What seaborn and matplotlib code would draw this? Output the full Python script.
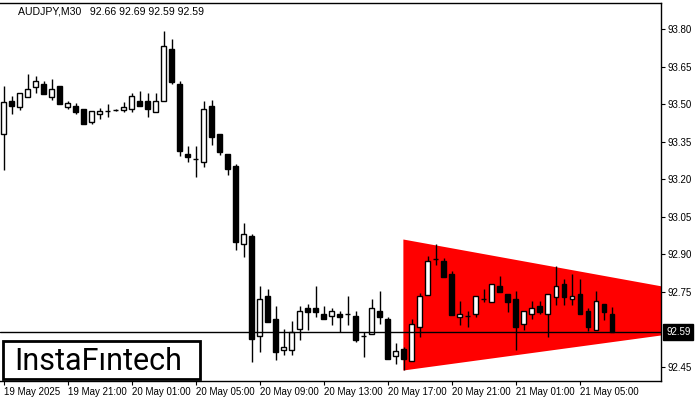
import numpy as np
import pandas as pd
import matplotlib
matplotlib.use("Agg")
import matplotlib.pyplot as plt
import matplotlib.transforms as mtransforms
from matplotlib.patches import Rectangle
import seaborn as sns

# header / chart info
header_text = "AUDJPY,M30   92.66 92.69 92.59 92.59"
logo_text = "InstaFıntech"
last_price = 92.59

# OHLC of the M30 candles, oldest first
opens = [93.381, 93.514, 93.490, 93.530, 93.570, 93.581, 93.530, 93.573, 93.490, 93.493,
         93.480, 93.430, 93.460, 93.474, 93.477, 93.477, 93.480, 93.514, 93.513, 93.470,
         93.512, 93.720, 93.580, 93.300, 93.281, 93.270, 93.493, 93.381, 93.300, 93.253,
         92.940, 92.973, 92.573, 92.733, 92.640, 92.517, 92.517, 92.600, 92.683, 92.683,
         92.661, 92.653, 92.661, 92.661, 92.653, 92.573, 92.580, 92.673, 92.640, 92.493,
         92.520, 92.473, 92.610, 92.737, 92.880, 92.873, 92.821, 92.650, 92.653, 92.660,
         92.720, 92.710, 92.773, 92.741, 92.720, 92.620, 92.660, 92.693, 92.660, 92.730,
         92.781, 92.720, 92.741, 92.673, 92.597, 92.701, 92.660]
highs = [93.573, 93.533, 93.544, 93.621, 93.613, 93.593, 93.601, 93.573, 93.513, 93.504,
         93.480, 93.473, 93.484, 93.501, 93.481, 93.510, 93.546, 93.553, 93.544, 93.544,
         93.793, 93.761, 93.593, 93.333, 93.333, 93.513, 93.517, 93.381, 93.300, 93.261,
         93.024, 92.980, 92.773, 92.760, 92.693, 92.600, 92.633, 92.693, 92.701, 92.773,
         92.693, 92.683, 92.673, 92.733, 92.673, 92.590, 92.720, 92.753, 92.650, 92.543,
         92.530, 92.640, 92.744, 92.893, 92.941, 92.884, 92.833, 92.713, 92.673, 92.733,
         92.760, 92.780, 92.813, 92.741, 92.753, 92.673, 92.713, 92.713, 92.740, 92.853,
         92.800, 92.821, 92.800, 92.683, 92.753, 92.701, 92.690]
lows = [93.237, 93.460, 93.477, 93.530, 93.544, 93.542, 93.517, 93.500, 93.480, 93.460,
        93.420, 93.420, 93.440, 93.450, 93.475, 93.468, 93.470, 93.494, 93.450, 93.470,
        93.512, 93.580, 93.293, 93.270, 93.210, 93.250, 93.337, 93.297, 93.217, 92.917,
        92.890, 92.470, 92.510, 92.630, 92.477, 92.497, 92.497, 92.557, 92.597, 92.650,
        92.640, 92.617, 92.590, 92.617, 92.550, 92.490, 92.580, 92.620, 92.480, 92.460,
        92.437, 92.473, 92.570, 92.737, 92.857, 92.810, 92.657, 92.617, 92.610, 92.650,
        92.710, 92.710, 92.750, 92.670, 92.517, 92.597, 92.640, 92.660, 92.570, 92.697,
        92.697, 92.697, 92.660, 92.593, 92.597, 92.637, 92.590]
closes = [93.509, 93.494, 93.544, 93.560, 93.592, 93.542, 93.560, 93.500, 93.504, 93.470,
          93.420, 93.473, 93.473, 93.474, 93.477, 93.490, 93.533, 93.494, 93.480, 93.514,
          93.733, 93.590, 93.313, 93.290, 93.281, 93.480, 93.370, 93.310, 93.240, 92.950,
          92.980, 92.560, 92.720, 92.630, 92.510, 92.530, 92.590, 92.673, 92.670, 92.670,
          92.640, 92.673, 92.650, 92.661, 92.557, 92.573, 92.683, 92.650, 92.480, 92.513,
          92.480, 92.620, 92.733, 92.873, 92.880, 92.810, 92.657, 92.660, 92.653, 92.733,
          92.720, 92.780, 92.750, 92.710, 92.610, 92.673, 92.683, 92.670, 92.740, 92.773,
          92.730, 92.733, 92.660, 92.610, 92.713, 92.670, 92.590]

# time axis labels (one every 8 bars = 4 hours)
tick_bars = [0, 8, 16, 24, 32, 40, 48, 56, 64, 72]
tick_labels = ["19 May 2025", "19 May 21:00", "20 May 01:00", "20 May 05:00",
               "20 May 09:00", "20 May 13:00", "20 May 17:00", "20 May 21:00",
               "21 May 01:00", "21 May 05:00"]
price_ticks = [93.80, 93.65, 93.50, 93.35, 93.20, 93.05, 92.90, 92.75, 92.45]

# symmetrical triangle pattern (bar position, upper and lower bound)
pattern_bars = [49.9, 82.1]
pattern_top = [92.961, 92.774]
pattern_bottom = [92.437, 92.577]

df = pd.DataFrame({"open": opens, "high": highs, "low": lows, "close": closes})
df["bar"] = np.arange(len(df))
df["body_low"] = df[["open", "close"]].min(axis=1)
df["body_h"] = (df["close"] - df["open"]).abs()
df["color"] = np.where(df["close"] >= df["open"], "white", "black")

sns.set_theme(style="white")
plt.rcParams["font.family"] = ["Liberation Sans", "DejaVu Sans"]

fig = plt.figure(figsize=(7, 4), dpi=100)
ax = fig.add_axes([0, 0.04875, 0.9436, 0.94375])

ax.fill_between(pattern_bars, pattern_bottom, pattern_top, color="#ff0000", lw=0, zorder=1)
ax.vlines(df["bar"], df["low"], df["high"], color="black", lw=1, zorder=2)
ax.bar(df["bar"], df["body_h"], bottom=df["body_low"], width=0.55,
       color=df["color"], edgecolor="black", linewidth=1, zorder=3)
ax.axhline(last_price, color="black", lw=1, zorder=4)

ax.set_xlim(-0.45, 82.1)
ax.set_ylim(92.395, 93.905)

ax.yaxis.tick_right()
ax.set_yticks(price_ticks)
ax.set_yticklabels([f"{p:.2f}" for p in price_ticks])
ax.set_xticks(tick_bars)
ax.set_xticklabels(tick_labels, ha="left")
ax.tick_params(axis="y", direction="out", length=3, width=0.8, pad=2,
               labelsize=7, colors="black", right=True, left=False)
ax.tick_params(axis="x", direction="out", length=3, width=0.8, pad=1.5,
               labelsize=7, colors="black", bottom=True)
for side in ["top", "right", "bottom"]:
    ax.spines[side].set_color("black")
    ax.spines[side].set_linewidth(1)
ax.spines["left"].set_visible(False)
ax.grid(False)

# current price box on the price scale
trans = mtransforms.blended_transform_factory(ax.transAxes, ax.transData)
ax.annotate(f"{last_price:.2f}", xy=(1.0, last_price), xycoords=trans,
            xytext=(4, 0), textcoords="offset points", ha="left", va="center",
            fontsize=7, color="white", annotation_clip=False,
            bbox=dict(boxstyle="square,pad=0.3", fc="black", ec="black"))

fig.text(18 / 700, 1 - 11 / 400, header_text, fontsize=7.6, va="center", color="black")

# logo box
fig.add_artist(Rectangle((3 / 700, 1 - 379 / 400), 197 / 700, 38 / 400,
                         transform=fig.transFigure, fc="white", ec="black", lw=2, zorder=10))
fig.text(98 / 700, 1 - 370 / 400, logo_text, fontsize=22, family=["Roboto", "DejaVu Sans"],
         weight="normal", ha="center", va="baseline", color="black", zorder=11)

fig.savefig("out.png", dpi=100)
